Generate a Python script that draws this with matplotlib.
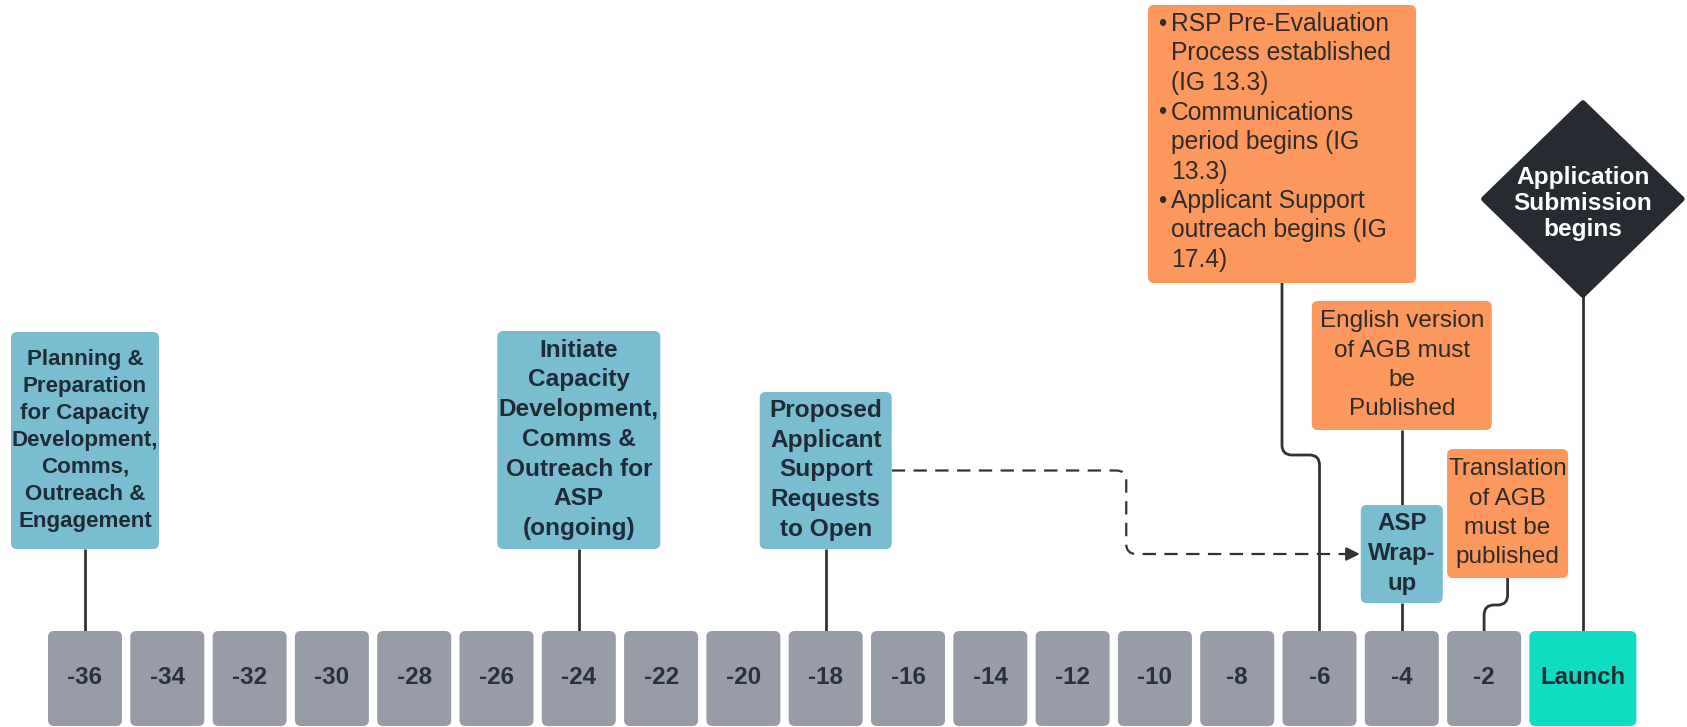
import numpy as np
import matplotlib
matplotlib.use("Agg")
import matplotlib.pyplot as plt
from matplotlib.patches import FancyBboxPatch, PathPatch, Polygon
from matplotlib.path import Path

plt.rcParams["font.family"] = ["Liberation Sans", "DejaVu Sans"]

# timeline: months before launch
MONTHS = [-36, -34, -32, -30, -28, -26, -24, -22, -20, -18,
          -16, -14, -12, -10, -8, -6, -4, -2]
MONTH_LABELS = [str(m) for m in MONTHS]
LAUNCH_MONTH = 0
LAUNCH_LABEL = "Launch"

# capacity development / applicant support milestones (blue)
BLUE_TEXT = [
    "Planning &\nPreparation\nfor Capacity\nDevelopment,\nComms,\nOutreach &\nEngagement",
    "Initiate\nCapacity\nDevelopment,\nComms &\nOutreach for\nASP\n(ongoing)",
    "Proposed\nApplicant\nSupport\nRequests\nto Open",
    "ASP\nWrap-\nup",
]
BLUE_MONTH = [-36, -24, -18, -4]

# program milestones (orange)
RSP_BULLETS = [
    "RSP Pre-Evaluation\nProcess established\n(IG 13.3)",
    "Communications\nperiod begins (IG\n13.3)",
    "Applicant Support\noutreach begins (IG\n17.4)",
]
ORANGE_TEXT = [
    RSP_BULLETS,
    "English version\nof AGB must\nbe\nPublished",
    "Translation\nof AGB\nmust be\npublished",
]
ORANGE_MONTH = [-6, -4, -2]

DIAMOND_TEXT = "Application\nSubmission\nbegins"

# ---- layout (pixels, figure is 1687 x 727) ----
DPI = 100
W_PX, H_PX = 1687, 727
PX = 41.15            # pixels per month
X0 = 85               # pixel centre of the first month box

BLUE_W = [148, 163, 132, 82]
BLUE_TOP = [332, 331, 392, 505]
BLUE_BOT = [549, 549, 549, 603]
BLUE_SIZE = [16.1, 17.6, 17.6, 17.3]
BLUE_STEP = [27, 29.7, 29.7, 30]

ORANGE_SHIFT = [-37.5, 0, 23.5]   # box centre offset from its month, px
ORANGE_W = [268, 180, 121]
ORANGE_TOP = [5, 301, 449]
ORANGE_BOT = [283, 430, 578]
ORANGE_JOG = [455, None, 605]

C_BLUE = "#7bbdd0"
C_ORANGE = "#fc985d"
C_GRAY = "#979ca6"
C_TEAL = "#0fdcc3"
C_DARK = "#262b31"
C_LINE = "#333333"
C_TXT = "#1f2b36"
C_TXT2 = "#2e2b29"


def mx(px):
    return px / PX


def rbox(ax, xc, w_px, top, bot, color, r=6):
    w, rr = mx(w_px), mx(r)
    ax.add_patch(FancyBboxPatch((xc - w / 2 + rr, top + r), w - 2 * rr, bot - top - 2 * r,
                                boxstyle=f"round,pad={rr},rounding_size={rr}",
                                mutation_aspect=PX, fc=color, ec="none", zorder=2))


def lines_text(ax, x, yc, text, size, step, ha="center", **kw):
    em = size * DPI / 72
    lines = text.split("\n")
    n = len(lines)
    for i, ln in enumerate(lines):
        yb = yc + (i - (n - 1) / 2) * step + 0.36 * em
        ax.text(x, yb, ln, fontsize=size, ha=ha, va="baseline", zorder=5, **kw)


def elbow(ax, pts, r=9, **kw):
    P = np.array([(x * PX, y) for x, y in pts], float)
    verts, codes = [P[0]], [Path.MOVETO]
    for i in range(1, len(P) - 1):
        a, b, c = P[i - 1], P[i], P[i + 1]
        d1 = (b - a) / np.linalg.norm(b - a)
        d2 = (c - b) / np.linalg.norm(c - b)
        rr = min(r, np.linalg.norm(b - a) / 2, np.linalg.norm(c - b) / 2)
        verts += [b - d1 * rr, b, b + d2 * rr]
        codes += [Path.LINETO, Path.CURVE3, Path.CURVE3]
    verts.append(P[-1])
    codes.append(Path.LINETO)
    V = np.array(verts)
    V[:, 0] /= PX
    ax.add_patch(PathPatch(Path(V, codes), fill=False, zorder=1, **kw))


fig = plt.figure(figsize=(W_PX / DPI, H_PX / DPI), dpi=DPI)
ax = fig.add_axes([0, 0, 1, 1])
x_left = MONTHS[0] - mx(X0)
ax.set_xlim(x_left, x_left + mx(W_PX))
ax.set_ylim(H_PX, 0)
ax.axis("off")

LINE = dict(ec=C_LINE, lw=2.0, capstyle="butt")
AX_TOP, AX_BOT = 631, 726

# month boxes
for m, lab in zip(MONTHS, MONTH_LABELS):
    rbox(ax, m, 74, AX_TOP, AX_BOT, C_GRAY)
    ax.text(m, 678, lab, fontsize=17.4, fontweight="bold", color="#29313a",
            ha="center", va="center", zorder=5)

launch_left = LAUNCH_MONTH - mx(37)
launch_w = 107
launch_c = launch_left + mx(launch_w) / 2
rbox(ax, launch_c, launch_w, AX_TOP, AX_BOT, C_TEAL)
ax.text(launch_c, 678, LAUNCH_LABEL, fontsize=17.3, fontweight="bold", color="#1c2e33",
        ha="center", va="center", zorder=5)

# blue milestone boxes
for i, (txt, m) in enumerate(zip(BLUE_TEXT, BLUE_MONTH)):
    rbox(ax, m, BLUE_W[i], BLUE_TOP[i], BLUE_BOT[i], C_BLUE)
    yc = (BLUE_TOP[i] + BLUE_BOT[i]) / 2 - 3
    lines_text(ax, m, yc, txt, BLUE_SIZE[i], BLUE_STEP[i], fontweight="bold", color=C_TXT)
    elbow(ax, [(m, BLUE_BOT[i]), (m, AX_TOP)], **LINE)

# orange milestone boxes
for i, (txt, m) in enumerate(zip(ORANGE_TEXT, ORANGE_MONTH)):
    xc = m + mx(ORANGE_SHIFT[i])
    rbox(ax, xc, ORANGE_W[i], ORANGE_TOP[i], ORANGE_BOT[i], C_ORANGE)
    if isinstance(txt, list):
        left = xc - mx(ORANGE_W[i]) / 2
        row = 0
        for item in txt:
            for j, ln in enumerate(item.split("\n")):
                yb = ORANGE_TOP[i] + 26 + row * 29.5
                if j == 0:
                    ax.text(left + mx(10), yb, "\u2022", fontsize=17, ha="left",
                            va="baseline", color=C_TXT2, zorder=5)
                ax.text(left + mx(23), yb, ln, fontsize=17.7, ha="left",
                        va="baseline", color=C_TXT2, zorder=5)
                row += 1
    else:
        yc = (ORANGE_TOP[i] + ORANGE_BOT[i]) / 2 - 3
        lines_text(ax, xc, yc, txt, 17.5, 29.3, color=C_TXT2)
    if ORANGE_JOG[i] is None:
        # connects down onto the ASP wrap-up box
        k = BLUE_MONTH.index(m)
        elbow(ax, [(xc, ORANGE_BOT[i]), (xc, BLUE_TOP[k])], **LINE)
    else:
        elbow(ax, [(xc, ORANGE_BOT[i]), (xc, ORANGE_JOG[i]), (m, ORANGE_JOG[i]), (m, AX_TOP)],
              r=10, **LINE)

# application submission diamond
d_cy, d_hw, d_hh = 199, 99, 96
ax.add_patch(Polygon([(launch_c, d_cy - d_hh), (launch_c + mx(d_hw), d_cy),
                      (launch_c, d_cy + d_hh), (launch_c - mx(d_hw), d_cy)],
                     closed=True, fc=C_DARK, ec=C_DARK, lw=4, joinstyle="round", zorder=2))
lines_text(ax, launch_c, d_cy + 2, DIAMOND_TEXT, 17.6, 26, fontweight="bold", color="white")
elbow(ax, [(launch_c, d_cy + d_hh), (launch_c, AX_TOP)], **LINE)

# dashed link: proposed requests -> ASP wrap-up
src = 2
dst = 3
x_a = BLUE_MONTH[src] + mx(BLUE_W[src]) / 2
x_b = BLUE_MONTH[dst] - mx(BLUE_W[dst]) / 2
y_a = (BLUE_TOP[src] + BLUE_BOT[src]) / 2
y_b = (BLUE_TOP[dst] + BLUE_BOT[dst]) / 2
x_mid = (x_a + x_b) / 2
elbow(ax, [(x_a, y_a), (x_mid, y_a), (x_mid, y_b), (x_b - mx(14), y_b)], r=10,
      ec=C_LINE, lw=1.6, linestyle=(0, (6, 3.8)))
ax.annotate("", xy=(x_b - mx(1), y_b), xytext=(x_b - mx(16), y_b),
            arrowprops=dict(arrowstyle="-|>,head_length=0.8,head_width=0.4",
                            color=C_LINE, lw=1.6, shrinkA=0, shrinkB=0), zorder=3)

fig.savefig("out.png", dpi=DPI)
